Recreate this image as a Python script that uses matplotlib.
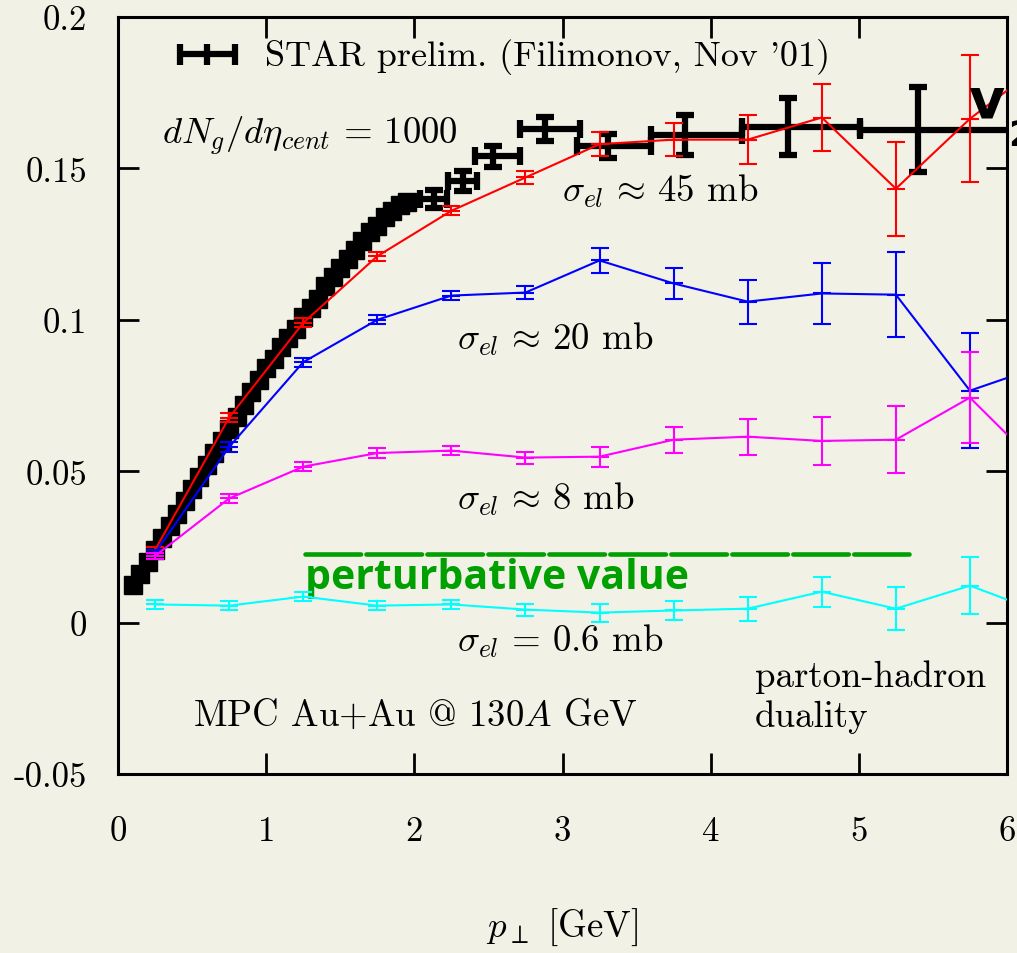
import numpy as np
import matplotlib
matplotlib.use("Agg")
import matplotlib.pyplot as plt

plt.rcParams['font.family'] = ['cmr10', 'DejaVu Serif']
plt.rcParams['mathtext.fontset'] = 'cm'
plt.rcParams['axes.unicode_minus'] = False
plt.rcParams['lines.scale_dashes'] = False

BG = '#f2f1e6'

# ---------------- data ----------------
# STAR preliminary v2(pT): dense low-pT points (squares)
star_x = [0.10, 0.15, 0.20, 0.25, 0.30, 0.35, 0.40, 0.45, 0.50, 0.55,
          0.60, 0.65, 0.70, 0.75, 0.80, 0.85, 0.90, 0.95, 1.00, 1.05,
          1.10, 1.15, 1.20, 1.25, 1.30, 1.35, 1.40, 1.45, 1.50, 1.55,
          1.60, 1.65, 1.70, 1.75, 1.80, 1.85, 1.90, 1.95]
star_y = [0.0125, 0.016, 0.020, 0.024, 0.028, 0.032, 0.036, 0.040, 0.044, 0.048,
          0.052, 0.056, 0.060, 0.064, 0.068, 0.072, 0.076, 0.080, 0.084, 0.087,
          0.091, 0.094, 0.097, 0.101, 0.104, 0.107, 0.111, 0.114, 0.117, 0.120,
          0.123, 0.126, 0.129, 0.131, 0.134, 0.136, 0.138, 0.139]
# STAR high-pT points with bins
star_hx = [2.13, 2.33, 2.53, 2.88, 3.31, 3.83, 4.52, 5.40]
star_hx_lo = [2.04, 2.23, 2.41, 2.71, 3.10, 3.60, 4.21, 5.01]
star_hx_hi = [2.22, 2.42, 2.71, 3.12, 3.60, 4.21, 5.01, 6.30]
star_hy = [0.140, 0.146, 0.154, 0.163, 0.1575, 0.161, 0.1638, 0.1628]
star_hyerr = [0.003, 0.0033, 0.0035, 0.004, 0.004, 0.0065, 0.0095, 0.014]

# MPC transport results
mpc_x = [0.25, 0.75, 1.25, 1.75, 2.25, 2.75, 3.25, 3.75, 4.25, 4.75, 5.25, 5.75, 6.25]
v2_45 = [0.024, 0.0677, 0.099, 0.121, 0.136, 0.147, 0.158, 0.1595, 0.1595, 0.1668, 0.1433, 0.1664, 0.185]
e_45 = [0.001, 0.0015, 0.0015, 0.0015, 0.0015, 0.002, 0.004, 0.0055, 0.008, 0.011, 0.0155, 0.021, 0.025]
v2_20 = [0.023, 0.058, 0.086, 0.100, 0.108, 0.109, 0.1196, 0.112, 0.106, 0.1087, 0.1083, 0.0766, 0.085]
e_20 = [0.001, 0.0015, 0.0015, 0.0015, 0.0015, 0.002, 0.004, 0.005, 0.0073, 0.010, 0.014, 0.019, 0.024]
v2_8 = [0.022, 0.041, 0.0515, 0.056, 0.0568, 0.0545, 0.0548, 0.0604, 0.0614, 0.060, 0.0604, 0.0743, 0.050]
e_8 = [0.001, 0.0015, 0.0015, 0.0015, 0.0015, 0.002, 0.0033, 0.0043, 0.006, 0.008, 0.011, 0.015, 0.020]
v2_06 = [0.006, 0.0056, 0.0086, 0.0056, 0.006, 0.0043, 0.0033, 0.004, 0.0046, 0.0102, 0.0046, 0.0122, 0.003]
e_06 = [0.0015, 0.0015, 0.0015, 0.0015, 0.0015, 0.002, 0.003, 0.003, 0.004, 0.005, 0.007, 0.0093, 0.012]

pert_value = 0.0225
pert_range = [1.26, 5.34]

xticks = [0, 1, 2, 3, 4, 5, 6]
yticks = [-0.05, 0, 0.05, 0.1, 0.15, 0.2]
yticklabels = ['-0.05', '0', '0.05', '0.1', '0.15', '0.2']

# ---------------- figure ----------------
fig = plt.figure(figsize=(10.17, 9.54), dpi=100, facecolor=BG)
ax = fig.add_axes([118/1017, 1-775/954, 889/1017, 757/954], facecolor=BG)
ax.set_xlim(0, 6)
ax.set_ylim(-0.05, 0.2)

# STAR low-pT squares
ax.plot(star_x, star_y, 's', color='black', markersize=13.5, zorder=2)
# STAR high-pT points
xerr = [np.array(star_hx) - np.array(star_hx_lo), np.array(star_hx_hi) - np.array(star_hx)]
ax.errorbar(star_hx, star_hy, xerr=xerr, yerr=star_hyerr, fmt='none', ecolor='black',
            elinewidth=4.5, capsize=6.5, capthick=4.5, zorder=2)

series = [(v2_45, e_45, '#ff0000'), (v2_20, e_20, '#0000ff'),
          (v2_8, e_8, '#ff00ff'), (v2_06, e_06, '#00ffff')]
for i, (vals, errs, col) in enumerate(series):
    ax.errorbar(mpc_x, vals, yerr=errs, fmt='-', marker='_', markersize=13, mew=1.5,
                color=col, lw=1.5, elinewidth=1.5, capsize=6.5, capthick=1.5,
                zorder=3 + i)

# perturbative value line
ax.plot(pert_range, [pert_value, pert_value], color='#00a000', lw=3.3,
        dashes=(40.0, 3.9), dash_capstyle='round', solid_capstyle='round', zorder=3)

# legend symbol (manual)
def axp(px, py):
    return ((px - 118) / 889, (775 - py) / 757)
lw_leg = 4.5
(x0, y0), (x1, _) = axp(180, 55), axp(235, 55)
_, yt = axp(0, 45)
_, yb = axp(0, 66)
xm, _ = axp(207, 0)
for xs, ys in [([x0, x1], [y0, y0]), ([x0, x0], [yb, yt]), ([x1, x1], [yb, yt]), ([xm, xm], [yb, yt])]:
    ax.plot(xs, ys, color='black', lw=lw_leg, transform=ax.transAxes, solid_capstyle='butt')

fs = 26.5
ax.text(0.99, 0.187, "STAR prelim. (Filimonov, Nov '01)", fontsize=26, va='center', ha='left')
ax.text(0.30, 0.161, r'$dN_g/d\eta_{cent}\,=\,1000$', fontsize=fs, va='center', ha='left')
ax.text(3.0, 0.1427, r'$\sigma_{el}\,\approx\,45$ mb', fontsize=fs, va='center', ha='left')
ax.text(2.29, 0.0938, r'$\sigma_{el}\,\approx\,20$ mb', fontsize=fs, va='center', ha='left')
ax.text(2.29, 0.041, r'$\sigma_{el}\,\approx\,8$ mb', fontsize=fs, va='center', ha='left')
ax.text(2.29, -0.006, r'$\sigma_{el}\,=\,0.6$ mb', fontsize=fs, va='center', ha='left')
ax.text(1.26, 0.0150, 'perturbative value', fontsize=29.5, fontweight='bold',
        family=['Open Sans', 'DejaVu Sans'], color='#00a000', va='center', ha='left')
ax.text(4.30, -0.0178, 'parton-hadron', fontsize=fs, va='center', ha='left')
ax.text(4.30, -0.031, 'duality', fontsize=fs, va='center', ha='left')
ax.text(0.506, -0.0304, r'MPC Au+Au @ 130$A$ GeV', fontsize=fs, va='center', ha='left')

# v2 label at the edge
fig.text(968/1017, 1-118/954, 'v', fontsize=40, fontweight='bold',
         family=['DejaVu Sans'], va='baseline', ha='left')
fig.text(1008/1017, 1-146/954, '2', fontsize=26, fontweight='bold',
         family=['DejaVu Sans'], va='baseline', ha='left')

ax.set_xticks(xticks)
ax.set_xticklabels([str(t) for t in xticks])
ax.set_yticks(yticks)
ax.set_yticklabels(yticklabels)
ax.tick_params(direction='in', length=15, width=2, labelsize=25, top=True, right=True)
ax.tick_params(axis='x', pad=30)
ax.tick_params(axis='y', pad=22)
for sp in ax.spines.values():
    sp.set_linewidth(2.2)
ax.set_xlabel(r'$p_\perp$ [GeV]', fontsize=fs, labelpad=42)

fig.savefig('out.png', dpi=100, facecolor=BG)
